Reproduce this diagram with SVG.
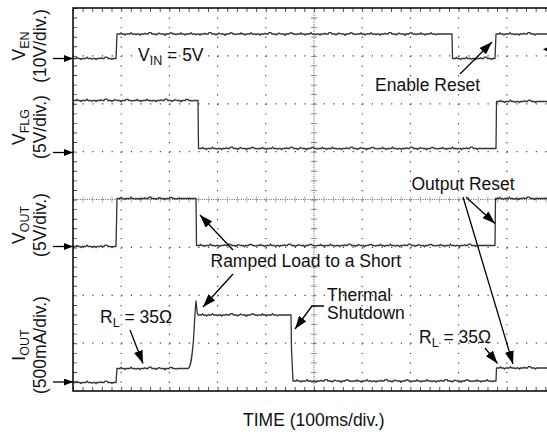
<svg xmlns="http://www.w3.org/2000/svg" width="547" height="432" viewBox="0 0 547 432">
<defs>
<style>
.t{font-family:"Liberation Sans",Arial,sans-serif;font-size:17.5px;fill:#111}
.s{font-size:12.5px}
.g{stroke:#444;stroke-width:1.2;fill:none}
.tr{stroke:#333;stroke-width:1.3;fill:none;stroke-linejoin:round}
.ar{stroke:#000;stroke-width:1.3;fill:none}
</style>
<marker id="ah" markerUnits="userSpaceOnUse" markerWidth="13" markerHeight="9" refX="13" refY="4.5" orient="auto">
<path d="M0,0 L13,4.5 L0,9 z" fill="#000"/>
</marker>
<marker id="ax" markerUnits="userSpaceOnUse" markerWidth="9" markerHeight="7" refX="9" refY="3.5" orient="auto">
<path d="M0,0 L9,3.5 L0,7 z" fill="#000"/>
</marker>
</defs>
<rect width="547" height="432" fill="#fff"/>
<g id="grid">
<g class="g" stroke-dasharray="1.2 8.38">
<line x1="121.2" y1="8" x2="121.2" y2="391"/>
<line x1="169.4" y1="8" x2="169.4" y2="391"/>
<line x1="217.6" y1="8" x2="217.6" y2="391"/>
<line x1="265.8" y1="8" x2="265.8" y2="391"/>
<line x1="362.2" y1="8" x2="362.2" y2="391"/>
<line x1="410.4" y1="8" x2="410.4" y2="391"/>
<line x1="458.6" y1="8" x2="458.6" y2="391"/>
<line x1="506.8" y1="8" x2="506.8" y2="391"/>
</g>
<g class="g" stroke-dasharray="1.2 8.44">
<line x1="73" y1="55.9" x2="547" y2="55.9"/>
<line x1="73" y1="103.8" x2="547" y2="103.8"/>
<line x1="73" y1="151.6" x2="547" y2="151.6"/>
<line x1="73" y1="247.4" x2="547" y2="247.4"/>
<line x1="73" y1="295.3" x2="547" y2="295.3"/>
<line x1="73" y1="343.1" x2="547" y2="343.1"/>
</g>
<g fill="none">
<line x1="314" y1="8" x2="314" y2="391" stroke="#444" stroke-width="0.9" stroke-dasharray="1 1.3"/>
<line x1="314" y1="8" x2="314" y2="391" stroke="#777" stroke-width="6" stroke-dasharray="0.8 8.78"/>
<line x1="73" y1="199.5" x2="547" y2="199.5" stroke="#555" stroke-width="0.9" stroke-dasharray="1 1.3"/>
<line x1="73" y1="199.5" x2="547" y2="199.5" stroke="#999" stroke-width="6" stroke-dasharray="0.8 8.84"/>
<line x1="75" y1="8" x2="75" y2="391" stroke="#444" stroke-width="4" stroke-dasharray="0.9 8.68"/>
<line x1="73" y1="10" x2="547" y2="10" stroke="#444" stroke-width="4" stroke-dasharray="0.9 8.74"/>
<line x1="73" y1="389" x2="547" y2="389" stroke="#444" stroke-width="4" stroke-dasharray="0.9 8.74"/>
</g>
<path d="M73,8 H547 M73,7.3 V391.7 M73,391 H547" stroke="#000" stroke-width="1.5" fill="none"/>
</g>
<g id="traces" class="tr">
<path id="trace-ven" d="M73,58.5 h3 l1,-1.2 l1,1.2 h2 l1,1 l1,-1 h4 l1,-1.5 l1,1.5 h3 l1,0.8 l1,-0.8 h2 l1,1.2 l1,-1.2 h3 l1,-0.8 l1,0.8 h2 l1,-1.3 h2 l1,1.3 h3 l1,1 l1,-1 h3 l1,-24.5 h3 l1,-1.2 l1,1.2 h2 l1,1 l1,-1 h4 l1,-1.5 l1,1.5 h3 l1,0.8 l1,-0.8 h2 l1,1.2 l1,-1.2 h3 l1,-0.8 l1,0.8 h2 l1,-1.3 h2 l1,1.3 h3 l1,1 l1,-1 h1 l1,-1 l1,0.5 l1,0.5 h3 l1,1.4 l1,-1.4 h3 l1,-1 h2 l1,1 h2 l1,0.7 l1,-0.7 h3 l1,-1.2 l1,1.2 h2 l1,1 l1,-1 h4 l1,-1.5 l1,1.5 h3 l1,0.8 l1,-0.8 h2 l1,1.2 l1,-1.2 h3 l1,-0.8 l1,0.8 h2 l1,-1.3 h2 l1,1.3 h3 l1,1 l1,-1 h1 l1,-1 l1,0.5 l1,0.5 h3 l1,1.4 l1,-1.4 h3 l1,-1 h2 l1,1 h2 l1,0.7 l1,-0.7 h3 l1,-1.2 l1,1.2 h2 l1,1 l1,-1 h4 l1,-1.5 l1,1.5 h3 l1,0.8 l1,-0.8 h2 l1,1.2 l1,-1.2 h3 l1,-0.8 l1,0.8 h2 l1,-1.3 h2 l1,1.3 h3 l1,1 l1,-1 h1 l1,-1 l1,0.5 l1,0.5 h3 l1,1.4 l1,-1.4 h3 l1,-1 h2 l1,1 h2 l1,0.7 l1,-0.7 h3 l1,-1.2 l1,1.2 h2 l1,1 l1,-1 h4 l1,-1.5 l1,1.5 h3 l1,0.8 l1,-0.8 h2 l1,1.2 l1,-1.2 h3 l1,-0.8 l1,0.8 h2 l1,-1.3 h2 l1,1.3 h3 l1,1 l1,-1 h1 l1,-1 l1,0.5 l1,0.5 h3 l1,1.4 l1,-1.4 h3 l1,-1 h2 l1,1 h2 l1,0.7 l1,-0.7 h3 l1,-1.2 l1,1.2 h2 l1,1 l1,-1 h4 l1,-1.5 l1,1.5 h3 l1,0.8 l1,-0.8 h2 l1,1.2 l1,-1.2 h3 l1,-0.8 l1,0.8 h2 l1,-1.3 h2 l1,1.3 h3 l1,1 l1,-1 h1 l1,-1 l1,0.5 l1,0.5 h3 l1,1.4 l1,-1.4 h3 l1,-1 h2 l1,1 h2 l1,0.7 l1,-0.7 h3 l1,-1.2 l1,1.2 h2 l1,1 l1,-1 h4 l1,-1.5 l1,1.5 h3 l1,0.8 l1,-0.8 h15 l0.5,24.5 h3 l1,-1.2 l1,1.2 h2 l1,1 l1,-1 h4 l1,-1.5 l1,1.5 h3 l1,0.8 l1,-0.8 h2 l1,1.2 l1,-1.2 h3 l1,-0.8 l1,0.8 h2 l1,-1.3 h2 l1,1.3 h3 l1,1 l1,-1 h2.5 l1,-24.5 h3 l1,-1.2 l1,1.2 h2 l1,1 l1,-1 h4 l1,-1.5 l1,1.5 h3 l1,0.8 l1,-0.8 h2 l1,1.2 l1,-1.2 h3 l1,-0.8 l1,0.8 h2 l1,-1.3 h2 l1,1.3 h3 l1,1 l1,-1 h15"/>
<path id="trace-vflg" d="M73,100.5 h3 l1,-1.2 l1,1.2 h2 l1,1 l1,-1 h4 l1,-1.5 l1,1.5 h3 l1,0.8 l1,-0.8 h2 l1,1.2 l1,-1.2 h3 l1,-0.8 l1,0.8 h2 l1,-1.3 h2 l1,1.3 h3 l1,1 l1,-1 h1 l1,-1 l1,0.5 l1,0.5 h3 l1,1.4 l1,-1.4 h3 l1,-1 h2 l1,1 h2 l1,0.7 l1,-0.7 h3 l1,-1.2 l1,1.2 h2 l1,1 l1,-1 h4 l1,-1.5 l1,1.5 h3 l1,0.8 l1,-0.8 h2 l1,1.2 l1,-1.2 h3 l1,-0.8 l1,0.8 h2 l1,-1.3 h2 l1,1.3 h3 l1,1 l1,-1 h1 l1,-1 l1,0.5 l1,0.5 h3 l1,1.4 l1,-1.4 h3 l1,-1 h2 l1,1 h2 l1,0.7 l1,-0.7 h5 l0.5,48 h3 l1,-1.2 l1,1.2 h2 l1,1 l1,-1 h4 l1,-1.5 l1,1.5 h3 l1,0.8 l1,-0.8 h2 l1,1.2 l1,-1.2 h3 l1,-0.8 l1,0.8 h2 l1,-1.3 h2 l1,1.3 h3 l1,1 l1,-1 h1 l1,-1 l1,0.5 l1,0.5 h3 l1,1.4 l1,-1.4 h3 l1,-1 h2 l1,1 h2 l1,0.7 l1,-0.7 h3 l1,-1.2 l1,1.2 h2 l1,1 l1,-1 h4 l1,-1.5 l1,1.5 h3 l1,0.8 l1,-0.8 h2 l1,1.2 l1,-1.2 h3 l1,-0.8 l1,0.8 h2 l1,-1.3 h2 l1,1.3 h3 l1,1 l1,-1 h1 l1,-1 l1,0.5 l1,0.5 h3 l1,1.4 l1,-1.4 h3 l1,-1 h2 l1,1 h2 l1,0.7 l1,-0.7 h3 l1,-1.2 l1,1.2 h2 l1,1 l1,-1 h4 l1,-1.5 l1,1.5 h3 l1,0.8 l1,-0.8 h2 l1,1.2 l1,-1.2 h3 l1,-0.8 l1,0.8 h2 l1,-1.3 h2 l1,1.3 h3 l1,1 l1,-1 h1 l1,-1 l1,0.5 l1,0.5 h3 l1,1.4 l1,-1.4 h3 l1,-1 h2 l1,1 h2 l1,0.7 l1,-0.7 h3 l1,-1.2 l1,1.2 h2 l1,1 l1,-1 h4 l1,-1.5 l1,1.5 h3 l1,0.8 l1,-0.8 h2 l1,1.2 l1,-1.2 h3 l1,-0.8 l1,0.8 h2 l1,-1.3 h2 l1,1.3 h3 l1,1 l1,-1 h1 l1,-1 l1,0.5 l1,0.5 h3 l1,1.4 l1,-1.4 h3 l1,-1 h2 l1,1 h2 l1,0.7 l1,-0.7 h3 l1,-1.2 l1,1.2 h2 l1,1 l1,-1 h4 l1,-1.5 l1,1.5 h3 l1,0.8 l1,-0.8 h2 l1,1.2 l1,-1.2 h3 l1,-0.8 l1,0.8 h2 l1,-1.3 h2 l1,1.3 h3 l1,1 l1,-1 h17.5 l0.5,-47 h3 l1,-1.2 l1,1.2 h2 l1,1 l1,-1 h4 l1,-1.5 l1,1.5 h3 l1,0.8 l1,-0.8 h2 l1,1.2 l1,-1.2 h3 l1,-0.8 l1,0.8 h2 l1,-1.3 h2 l1,1.3 h3 l1,1 l1,-1 h15"/>
<path id="trace-vout" d="M73,246.5 h3 l1,-1.2 l1,1.2 h2 l1,1 l1,-1 h4 l1,-1.5 l1,1.5 h3 l1,0.8 l1,-0.8 h2 l1,1.2 l1,-1.2 h3 l1,-0.8 l1,0.8 h2 l1,-1.3 h2 l1,1.3 h3 l1,1 l1,-1 h3 l1,-48 h3 l1,-1.2 l1,1.2 h2 l1,1 l1,-1 h4 l1,-1.5 l1,1.5 h3 l1,0.8 l1,-0.8 h2 l1,1.2 l1,-1.2 h3 l1,-0.8 l1,0.8 h2 l1,-1.3 h2 l1,1.3 h3 l1,1 l1,-1 h1 l1,-1 l1,0.5 l1,0.5 h3 l1,1.4 l1,-1.4 h3 l1,-1 h2 l1,1 h2 l1,0.7 l1,-0.7 h19 l0.5,47 h3 l1,-1.2 l1,1.2 h2 l1,1 l1,-1 h4 l1,-1.5 l1,1.5 h3 l1,0.8 l1,-0.8 h2 l1,1.2 l1,-1.2 h3 l1,-0.8 l1,0.8 h2 l1,-1.3 h2 l1,1.3 h3 l1,1 l1,-1 h1 l1,-1 l1,0.5 l1,0.5 h3 l1,1.4 l1,-1.4 h3 l1,-1 h2 l1,1 h2 l1,0.7 l1,-0.7 h3 l1,-1.2 l1,1.2 h2 l1,1 l1,-1 h4 l1,-1.5 l1,1.5 h3 l1,0.8 l1,-0.8 h2 l1,1.2 l1,-1.2 h3 l1,-0.8 l1,0.8 h2 l1,-1.3 h2 l1,1.3 h3 l1,1 l1,-1 h1 l1,-1 l1,0.5 l1,0.5 h3 l1,1.4 l1,-1.4 h3 l1,-1 h2 l1,1 h2 l1,0.7 l1,-0.7 h3 l1,-1.2 l1,1.2 h2 l1,1 l1,-1 h4 l1,-1.5 l1,1.5 h3 l1,0.8 l1,-0.8 h2 l1,1.2 l1,-1.2 h3 l1,-0.8 l1,0.8 h2 l1,-1.3 h2 l1,1.3 h3 l1,1 l1,-1 h1 l1,-1 l1,0.5 l1,0.5 h3 l1,1.4 l1,-1.4 h3 l1,-1 h2 l1,1 h2 l1,0.7 l1,-0.7 h3 l1,-1.2 l1,1.2 h2 l1,1 l1,-1 h4 l1,-1.5 l1,1.5 h3 l1,0.8 l1,-0.8 h2 l1,1.2 l1,-1.2 h3 l1,-0.8 l1,0.8 h2 l1,-1.3 h2 l1,1.3 h3 l1,1 l1,-1 h1 l1,-1 l1,0.5 l1,0.5 h3 l1,1.4 l1,-1.4 h3 l1,-1 h2 l1,1 h2 l1,0.7 l1,-0.7 h3 l1,-1.2 l1,1.2 h2 l1,1 l1,-1 h4 l1,-1.5 l1,1.5 h3 l1,0.8 l1,-0.8 h2 l1,1.2 l1,-1.2 h3 l1,-0.8 l1,0.8 h2 l1,-1.3 h2 l1,1.3 h3 l1,1 l1,-1 h18.5 l0.5,-47 h3 l1,-1.2 l1,1.2 h2 l1,1 l1,-1 h4 l1,-1.5 l1,1.5 h3 l1,0.8 l1,-0.8 h2 l1,1.2 l1,-1.2 h3 l1,-0.8 l1,0.8 h2 l1,-1.3 h2 l1,1.3 h3 l1,1 l1,-1 h15"/>
<path id="trace-iout" d="M73,382.5 h3 l1,-1.2 l1,1.2 h2 l1,1 l1,-1 h4 l1,-1.5 l1,1.5 h3 l1,0.8 l1,-0.8 h2 l1,1.2 l1,-1.2 h3 l1,-0.8 l1,0.8 h2 l1,-1.3 h2 l1,1.3 h3 l1,1 l1,-1 h3 l1,-14 h3 l1,-1.2 l1,1.2 h2 l1,1 l1,-1 h4 l1,-1.5 l1,1.5 h3 l1,0.8 l1,-0.8 h2 l1,1.2 l1,-1.2 h3 l1,-0.8 l1,0.8 h2 l1,-1.3 h2 l1,1.3 h3 l1,1 l1,-1 h1 l1,-1 l1,0.5 l1,0.5 h3 l1,1.4 l1,-1.4 h3 l1,-1 h2 l1,1 h2 l1,0.7 l1,-0.7 h11 C191,368 192,356 193.5,340 L195,313 L196,301 L197.3,313.5 L198.5,315 h3 l1,-1.2 l1,1.2 h2 l1,1 l1,-1 h4 l1,-1.5 l1,1.5 h3 l1,0.8 l1,-0.8 h2 l1,1.2 l1,-1.2 h3 l1,-0.8 l1,0.8 h2 l1,-1.3 h2 l1,1.3 h3 l1,1 l1,-1 h1 l1,-1 l1,0.5 l1,0.5 h3 l1,1.4 l1,-1.4 h3 l1,-1 h2 l1,1 h2 l1,0.7 l1,-0.7 h3 l1,-1.2 l1,1.2 h2 l1,1 l1,-1 h4 l1,-1.5 l1,1.5 h3 l1,0.8 l1,-0.8 h12.5 l0.5,34 l1.5,32 h3 l1,-1.2 l1,1.2 h2 l1,1 l1,-1 h4 l1,-1.5 l1,1.5 h3 l1,0.8 l1,-0.8 h2 l1,1.2 l1,-1.2 h3 l1,-0.8 l1,0.8 h2 l1,-1.3 h2 l1,1.3 h3 l1,1 l1,-1 h1 l1,-1 l1,0.5 l1,0.5 h3 l1,1.4 l1,-1.4 h3 l1,-1 h2 l1,1 h2 l1,0.7 l1,-0.7 h3 l1,-1.2 l1,1.2 h2 l1,1 l1,-1 h4 l1,-1.5 l1,1.5 h3 l1,0.8 l1,-0.8 h2 l1,1.2 l1,-1.2 h3 l1,-0.8 l1,0.8 h2 l1,-1.3 h2 l1,1.3 h3 l1,1 l1,-1 h1 l1,-1 l1,0.5 l1,0.5 h3 l1,1.4 l1,-1.4 h3 l1,-1 h2 l1,1 h2 l1,0.7 l1,-0.7 h3 l1,-1.2 l1,1.2 h2 l1,1 l1,-1 h4 l1,-1.5 l1,1.5 h3 l1,0.8 l1,-0.8 h2 l1,1.2 l1,-1.2 h3 l1,-0.8 l1,0.8 h2 l1,-1.3 h2 l1,1.3 h3 l1,1 l1,-1 h1 l1,-1 l1,0.5 l1,0.5 h3 l1,1.4 l1,-1.4 h3 l1,-1 h2 l1,1 h2 l1,0.7 l1,-0.7 h3 l1,-1.2 l1,1.2 h2 l1,1 l1,-1 h4 l1,-1.5 l1,1.5 h3 l1,0.8 l1,-0.8 h3 l0.5,-13 h3 l1,-1.2 l1,1.2 h2 l1,1 l1,-1 h4 l1,-1.5 l1,1.5 h3 l1,0.8 l1,-0.8 h2 l1,1.2 l1,-1.2 h3 l1,-0.8 l1,0.8 h2 l1,-1.3 h2 l1,1.3 h3 l1,1 l1,-1 h15"/>
</g>
<g id="connectors">
<g class="ar">
<line x1="53" y1="58.5" x2="73" y2="58.5" marker-end="url(#ax)"/>
<line x1="53" y1="152.5" x2="73" y2="152.5" marker-end="url(#ax)"/>
<line x1="53" y1="246.5" x2="73" y2="246.5" marker-end="url(#ax)"/>
<line x1="53" y1="382" x2="73" y2="382" marker-end="url(#ax)"/>
<line x1="460" y1="74" x2="492" y2="42" marker-end="url(#ah)"/>
<line x1="233" y1="250" x2="200" y2="215" marker-end="url(#ah)"/>
<line x1="233" y1="274" x2="203" y2="307" marker-end="url(#ah)"/>
<polyline points="324,306 312,306 295,329" marker-end="url(#ah)"/>
<line x1="130" y1="330" x2="143" y2="363.5" marker-end="url(#ah)"/>
<line x1="466" y1="197" x2="495" y2="223.5" marker-end="url(#ah)"/>
<line x1="463" y1="197" x2="513" y2="364" marker-end="url(#ah)"/>
<line x1="485" y1="348" x2="497.5" y2="363.5" marker-end="url(#ah)"/>
</g>
<polygon points="543,49.3 551,45.5 551,53" fill="#000"/>
</g>
<g id="label-ven" class="t" transform="translate(0,46) rotate(-90)" text-anchor="middle">
<text x="0" y="25">V<tspan class="s" dy="4">EN</tspan></text>
<text x="0" y="46">(10V/div.)</text>
</g>
<g id="label-vflg" class="t" transform="translate(0,127) rotate(-90)" text-anchor="middle">
<text x="0" y="25">V<tspan class="s" dy="4">FLG</tspan></text>
<text x="0" y="46">(5V/div.)</text>
</g>
<g id="label-vout" class="t" transform="translate(0,225) rotate(-90)" text-anchor="middle">
<text x="0" y="25">V<tspan class="s" dy="4">OUT</tspan></text>
<text x="0" y="46">(5V/div.)</text>
</g>
<g id="label-iout" class="t" transform="translate(0,345) rotate(-90)" text-anchor="middle">
<text x="0" y="25">I<tspan class="s" dy="4">OUT</tspan></text>
<text x="0" y="46">(500mA/div.)</text>
</g>
<g id="annotations" class="t">
<text x="138" y="61">V<tspan class="s" dy="4">IN</tspan><tspan dy="-4"> = 5V</tspan></text>
<text x="375" y="91">Enable Reset</text>
<text x="411.5" y="190">Output Reset</text>
<text x="210.5" y="266.5">Ramped Load to a Short</text>
<text x="327" y="300.5">Thermal</text>
<text x="327" y="319">Shutdown</text>
<text x="100" y="322.5">R<tspan class="s" dy="4">L</tspan><tspan dy="-4"> = 35Ω</tspan></text>
<text x="419" y="343">R<tspan class="s" dy="4">L</tspan><tspan dy="-4"> = 35Ω</tspan></text>
<text x="243" y="426">TIME (100ms/div.)</text>
</g>
</svg>
